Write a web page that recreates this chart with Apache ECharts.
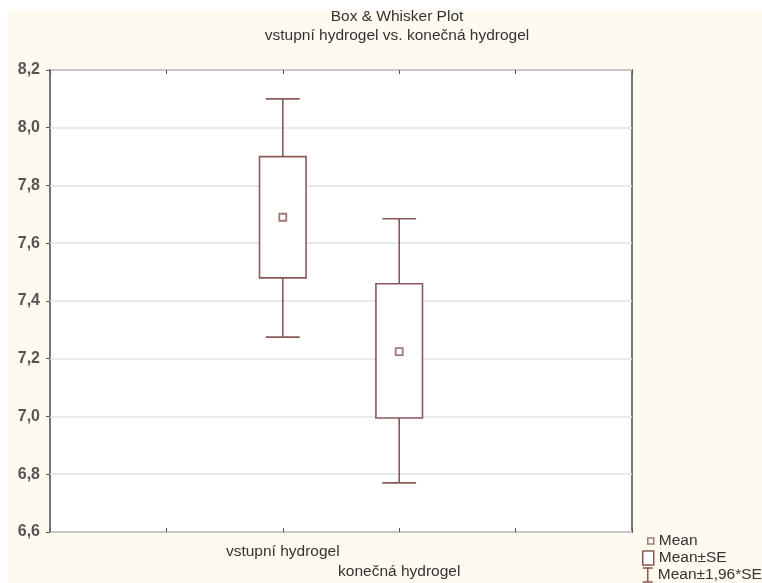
<!DOCTYPE html>
<html><head><meta charset="utf-8">
<script src="https://cdn.jsdelivr.net/npm/echarts@6/dist/echarts.min.js"></script>
<style>html,body{margin:0;padding:0;background:#fff}#c{width:762px;height:583px}</style>
</head><body><div id="c"></div>
<script>
var categories = ['vstupní hydrogel', 'konečná hydrogel'];
var means = [7.69, 7.225];
var seLow = [7.48, 6.995];
var seHigh = [7.90, 7.46];
var ciLow = [7.275, 6.77];
var ciHigh = [8.10, 7.685];
var yTicks = [6.6, 6.8, 7.0, 7.2, 7.4, 7.6, 7.8, 8.0, 8.2];

var C = '#8a5858';
var F = 'Liberation Sans';
var pos = categories.map(function (c, i) { return i + 2; });

var chart = echarts.init(document.getElementById('c'));
chart.setOption({
  backgroundColor: '#ffffff',
  animation: false,
  graphic: [{ type: 'rect', left: 8, top: 10, shape: { width: 760, height: 580 }, style: { fill: '#fffaef' }, z: -10 }],
  title: {
    text: 'Box & Whisker Plot\nvstupní hydrogel vs. konečná hydrogel',
    left: 392, textAlign: 'center', top: 2,
    textStyle: { fontFamily: F, fontSize: 15.5, fontWeight: 'normal', color: '#333', lineHeight: 19 }
  },
  grid: { left: 50, right: 130, top: 70, bottom: 51, show: true, backgroundColor: '#fff', borderColor: '#777', borderWidth: 2 },
  xAxis: [{
    type: 'value', min: 0, max: 5, interval: 1,
    axisLine: { show: false },
    axisTick: { show: true, inside: true, length: 4, lineStyle: { color: '#555' } },
    splitLine: { show: false },
    axisLabel: {
      show: true, margin: 10, fontFamily: F, fontSize: 15.5, color: '#333', lineHeight: 20,
      formatter: function (v) {
        var i = v - 2;
        if (i >= 0 && i < categories.length && Math.abs(i - Math.round(i)) < 1e-6) {
          return (i % 2 === 1 ? '\n' : '') + categories[Math.round(i)];
        }
        return '';
      }
    }
  }, {
    type: 'value', min: 0, max: 5, interval: 1, position: 'top',
    axisLine: { show: false },
    axisTick: { show: true, inside: true, length: 4, lineStyle: { color: '#555' } },
    splitLine: { show: false }, axisLabel: { show: false }
  }],
  yAxis: {
    type: 'value', min: yTicks[0], max: yTicks[yTicks.length - 1], interval: 0.2,
    axisLine: { show: false },
    axisTick: { show: true, length: 4, lineStyle: { color: '#555' } },
    splitLine: { show: true, lineStyle: { color: '#e2e2e2', width: 1.5 } },
    axisLabel: {
      margin: 10, fontFamily: F, fontSize: 16, color: '#555', fontWeight: 'bold',
      formatter: function (v) { return v.toFixed(1).replace('.', ','); }
    }
  },
  legend: [{
    data: [{ name: 'Mean', icon: 'rect', itemStyle: { color: '#fff', borderColor: C, borderWidth: 1.5 } }],
    orient: 'vertical', left: 642, top: 528, itemWidth: 6, itemHeight: 6,
    textStyle: { fontFamily: F, fontSize: 15.5, color: '#333' }
  }, {
    data: [{ name: 'Mean±SE', icon: 'rect', itemStyle: { color: '#fff', borderColor: C, borderWidth: 1.5 } }],
    orient: 'vertical', left: 637, top: 545, itemWidth: 11, itemHeight: 14,
    textStyle: { fontFamily: F, fontSize: 15.5, color: '#333' }
  }, {
    data: [{ name: 'Mean±1,96*SE', icon: 'path://M0,0L10,0M5,0L5,14M0,14L10,14', itemStyle: { color: 'transparent', borderColor: C, borderWidth: 1.5 } }],
    orient: 'vertical', left: 637, top: 562, itemWidth: 10, itemHeight: 14,
    textStyle: { fontFamily: F, fontSize: 15.5, color: '#333' }
  }],
  series: [{
    name: 'Mean±1,96*SE', type: 'custom', z: 2,
    itemStyle: { color: C },
    data: pos.map(function (p, i) { return [p, ciLow[i], ciHigh[i]]; }),
    renderItem: function (params, api) {
      var x = api.value(0);
      var a = api.coord([x, api.value(1)]);
      var b = api.coord([x, api.value(2)]);
      var w = api.size([0.29, 0])[0] / 2;
      var st = { stroke: C, lineWidth: 1.6, fill: null };
      return { type: 'group', children: [
        { type: 'line', shape: { x1: a[0], y1: a[1], x2: b[0], y2: b[1] }, style: st },
        { type: 'line', shape: { x1: a[0] - w, y1: a[1], x2: a[0] + w, y2: a[1] }, style: st },
        { type: 'line', shape: { x1: b[0] - w, y1: b[1], x2: b[0] + w, y2: b[1] }, style: st }
      ] };
    }
  }, {
    name: 'Mean±SE', type: 'custom', z: 3,
    itemStyle: { color: C },
    data: pos.map(function (p, i) { return [p, seLow[i], seHigh[i]]; }),
    renderItem: function (params, api) {
      var x = api.value(0);
      var a = api.coord([x, api.value(1)]);
      var b = api.coord([x, api.value(2)]);
      var w = api.size([0.40, 0])[0];
      return { type: 'rect', shape: { x: a[0] - w / 2, y: b[1], width: w, height: a[1] - b[1] },
        style: { fill: '#fff', stroke: C, lineWidth: 1.6 } };
    }
  }, {
    name: 'Mean', type: 'scatter', z: 4,
    symbol: 'rect', symbolSize: 7,
    itemStyle: { color: '#fff', borderColor: C, borderWidth: 1.8 },
    data: pos.map(function (p, i) { return [p, means[i]]; })
  }]
});
</script></body></html>
